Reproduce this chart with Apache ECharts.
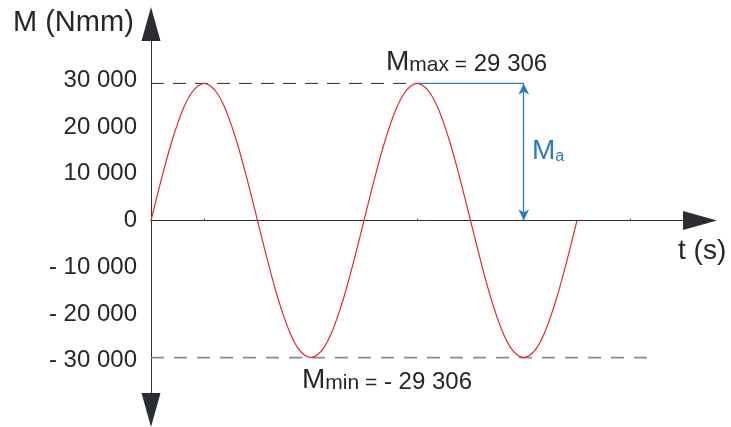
<!DOCTYPE html>
<html>
<head>
<meta charset="utf-8">
<script src="https://cdn.jsdelivr.net/npm/echarts@6/dist/echarts.min.js"></script>
<style>
  html, body { margin: 0; padding: 0; background: #fff; }
  #moment-chart { width: 731px; height: 427px; }
</style>
</head>
<body>
<div id="moment-chart"></div>
<script>
// t in quarter periods, M in Nmm
var tValues = [0, 0.125, 0.25, 0.375, 0.5, 0.625, 0.75, 0.875, 1, 1.125, 1.25, 1.375, 1.5, 1.625, 1.75, 1.875,
  2, 2.125, 2.25, 2.375, 2.5, 2.625, 2.75, 2.875, 3, 3.125, 3.25, 3.375, 3.5, 3.625, 3.75, 3.875,
  4, 4.125, 4.25, 4.375, 4.5, 4.625, 4.75, 4.875, 5, 5.125, 5.25, 5.375, 5.5, 5.625, 5.75, 5.875,
  6, 6.125, 6.25, 6.375, 6.5, 6.625, 6.75, 6.875, 7, 7.125, 7.25, 7.375, 7.5, 7.625, 7.75, 7.875, 8];
var mValues = [0, 5700, 11200, 16300, 20700, 24400, 27100, 28700, 29306, 28700, 27100, 24400, 20700, 16300, 11200, 5700,
  0, -5700, -11200, -16300, -20700, -24400, -27100, -28700, -29306, -28700, -27100, -24400, -20700, -16300, -11200, -5700,
  0, 5700, 11200, 16300, 20700, 24400, 27100, 28700, 29306, 28700, 27100, 24400, 20700, 16300, 11200, 5700,
  0, -5700, -11200, -16300, -20700, -24400, -27100, -28700, -29306, -28700, -27100, -24400, -20700, -16300, -11200, -5700, 0];
var yTickValues = [-30000, -20000, -10000, 0, 10000, 20000, 30000];
var xTickValues = [1, 5, 9];
var mMax = 29306;
var mMin = -29306;
var peakT = 5;        // second maximum
var amplitudeT = 7;   // where M_a arrow stands
var minLineEndT = 9.5;

var textColor = "#23272b";
var blue = "#2b79c2";
var font = "'Liberation Sans', Arial, sans-serif";

function fmt(v) {
  var s = String(Math.abs(v)).replace(/\B(?=(\d{3})+(?!\d))/g, " ");
  return v < 0 ? "- " + s : s;
}

var myChart = echarts.init(document.getElementById("moment-chart"));
var sineData = tValues.map(function (t, i) { return [t, mValues[i]]; });

var option = {
  animation: false,
  grid: { left: 151, right: 31, top: 24, bottom: 17, outerBoundsMode: "none" },
  xAxis: {
    type: "value",
    min: 0,
    max: 10.31,
    axisLine: {
      onZero: true,
      symbol: ["none", "triangle"],
      symbolSize: [19, 34],
      lineStyle: { color: "#2a2e33", width: 1 }
    },
    axisTick: { show: true, customValues: xTickValues, length: 2, inside: true, lineStyle: { color: "#555" } },
    axisLabel: { show: false },
    splitLine: { show: false }
  },
  yAxis: {
    type: "value",
    min: -40500,
    max: 42000,
    axisLine: {
      show: true,
      symbol: ["triangle", "triangle"],
      symbolSize: [19, 34],
      lineStyle: { color: "#2a2e33", width: 1 }
    },
    axisTick: { show: false },
    splitLine: { show: false },
    axisLabel: {
      customValues: yTickValues,
      formatter: fmt,
      color: textColor,
      fontSize: 24,
      fontFamily: font,
      margin: 14
    }
  },
  series: [
    {
      name: "M",
      type: "line",
      data: sineData,
      smooth: 0.3,
      showSymbol: false,
      z: 5,
      lineStyle: { color: "#dc2a30", width: 1.2 }
    },
    {
      type: "line",
      data: [[0, mMax], [peakT, mMax]],
      showSymbol: false,
      lineStyle: { color: "#2a2a2a", width: 1, type: [13, 9] }
    },
    {
      type: "line",
      data: [[0, mMin], [minLineEndT, mMin]],
      showSymbol: false,
      lineStyle: { color: "#8c8c8c", width: 1.6, type: [13, 10] }
    },
    {
      type: "line",
      data: [[peakT, mMax], [amplitudeT, mMax]],
      showSymbol: false,
      lineStyle: { color: blue, width: 1.3 },
      markLine: {
        silent: true,
        symbol: ["arrow", "arrow"],
        symbolSize: [8, 11],
        label: { show: false },
        lineStyle: { color: blue, width: 1.3, type: "solid" },
        data: [[{ coord: [amplitudeT, 0] }, { coord: [amplitudeT, mMax] }]]
      }
    }
  ],
  graphic: [
    {
      type: "text", x: 13, y: 23,
      style: { text: "M (Nmm)", fill: textColor, fontSize: 29, fontFamily: font, verticalAlign: "middle" }
    },
    {
      type: "text", x: 386, y: 62,
      style: {
        text: "{b|M}{s|max =}{v| 29 306}", fill: textColor, verticalAlign: "middle",
        rich: {
          b: { fontSize: 28, fontFamily: font, fill: textColor, lineHeight: 28, verticalAlign: "bottom" },
          s: { fontSize: 21, fontFamily: font, fill: textColor, lineHeight: 21, verticalAlign: "bottom" },
          v: { fontSize: 24, fontFamily: font, fill: textColor, lineHeight: 24, verticalAlign: "bottom" }
        }
      }
    },
    {
      type: "text", x: 302, y: 380,
      style: {
        text: "{b|M}{s|min =}{v| - 29 306}", fill: textColor, verticalAlign: "middle",
        rich: {
          b: { fontSize: 28, fontFamily: font, fill: textColor, lineHeight: 28, verticalAlign: "bottom" },
          s: { fontSize: 21, fontFamily: font, fill: textColor, lineHeight: 21, verticalAlign: "bottom" },
          v: { fontSize: 24, fontFamily: font, fill: textColor, lineHeight: 24, verticalAlign: "bottom" }
        }
      }
    },
    {
      type: "text", x: 532, y: 151,
      style: {
        text: "{b|M}{s|a}", fill: blue, verticalAlign: "middle",
        rich: {
          b: { fontSize: 28, fontFamily: font, fill: blue, lineHeight: 28, verticalAlign: "bottom" },
          s: { fontSize: 16, fontFamily: font, fill: blue, lineHeight: 16, verticalAlign: "bottom" }
        }
      }
    },
    {
      type: "text", x: 678, y: 251,
      style: { text: "t (s)", fill: textColor, fontSize: 28, fontFamily: font, verticalAlign: "middle" }
    }
  ]
};
myChart.setOption(option, true);
</script>
</body>
</html>
